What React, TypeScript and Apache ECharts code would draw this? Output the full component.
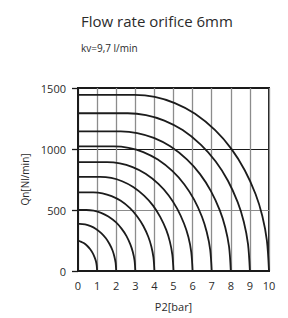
import React, { useEffect, useRef } from "react";
import * as echarts from "echarts";

const titleText = "Flow rate orifice 6mm";
const subtitleText = "kv=9,7 l/min";
const xTicks = [0, 1, 2, 3, 4, 5, 6, 7, 8, 9, 10];
const yTicks = [0, 500, 1000, 1500];

// inlet pressure P1 [bar] for each curve
const p1Values = [1, 2, 3, 4, 5, 6, 7, 8, 9, 10];

// [P2 bar, Qn Nl/min] points
const curveP1_1 = [[0, 250], [0.1, 244], [0.3, 229], [0.49, 205], [0.64, 178], [0.77, 147], [0.87, 112], [0.94, 80], [0.98, 44], [1, 0]];
const curveP1_2 = [[0, 386], [0.08, 386], [0.37, 382], [0.66, 368], [0.94, 345], [1.23, 309], [1.46, 268], [1.65, 221], [1.81, 168], [1.9, 121], [1.97, 67], [2, 0]];
const curveP1_3 = [[0, 500], [0.44, 500], [0.82, 494], [1.21, 477], [1.59, 447], [1.98, 400], [2.28, 347], [2.54, 286], [2.74, 218], [2.87, 156], [2.96, 86], [3, 0]];
const curveP1_4 = [[0, 644], [0.8, 644], [1.28, 637], [1.76, 614], [2.24, 575], [2.72, 515], [3.1, 447], [3.42, 369], [3.68, 281], [3.84, 201], [3.95, 111], [4, 0]];
const curveP1_5 = [[0, 772], [1.16, 772], [1.74, 763], [2.31, 736], [2.89, 689], [3.46, 618], [3.93, 536], [4.31, 442], [4.62, 337], [4.81, 241], [4.94, 133], [5, 0]];
const curveP1_6 = [[0, 892], [1.52, 892], [2.19, 882], [2.86, 851], [3.54, 797], [4.21, 714], [4.75, 619], [5.19, 511], [5.55, 389], [5.78, 278], [5.93, 154], [6, 0]];
const curveP1_7 = [[0, 1022], [1.88, 1022], [2.65, 1010], [3.42, 975], [4.18, 913], [4.95, 818], [5.57, 709], [6.08, 585], [6.49, 445], [6.74, 319], [6.92, 176], [7, 0]];
const curveP1_8 = [[0, 1144], [2.24, 1144], [3.1, 1131], [3.97, 1091], [4.83, 1022], [5.7, 915], [6.39, 794], [6.96, 655], [7.42, 499], [7.71, 357], [7.91, 197], [8, 0]];
const curveP1_9 = [[0, 1293], [2.6, 1293], [3.56, 1278], [4.52, 1233], [5.48, 1155], [6.44, 1034], [7.21, 897], [7.85, 740], [8.36, 564], [8.68, 404], [8.9, 223], [9, 0]];
const curveP1_10 = [[0, 1443], [2.96, 1443], [4.02, 1427], [5.07, 1376], [6.13, 1289], [7.18, 1154], [8.03, 1001], [8.73, 826], [9.3, 629], [9.65, 451], [9.89, 249], [10, 0]];

const curves = [curveP1_1, curveP1_2, curveP1_3, curveP1_4, curveP1_5, curveP1_6, curveP1_7, curveP1_8, curveP1_9, curveP1_10];

const FONT = "Open Sans";

export default function App() {
  const ref = useRef<HTMLDivElement>(null);
  useEffect(() => {
    if (!ref.current) return;
    const chart = echarts.init(ref.current, undefined, { renderer: "svg" });
    chart.setOption({
      animation: false,
      backgroundColor: "#ffffff",
      title: [
        { text: titleText, left: 76, top: 8, textStyle: { fontFamily: FONT, fontSize: 15, fontWeight: "normal", color: "#2b2b2b" } },
        { text: subtitleText, left: 76, top: 38, textStyle: { fontFamily: FONT, fontSize: 10, fontWeight: "normal", color: "#2b2b2b" } },
      ],
      grid: { left: 78, right: 19, top: 88, bottom: 47, show: true, borderColor: "#1a1a1a", borderWidth: 2, backgroundColor: "transparent" },
      xAxis: {
        type: "value",
        min: xTicks[0],
        max: xTicks[xTicks.length - 1],
        interval: 1,
        name: "P2[bar]",
        nameLocation: "middle",
        nameGap: 30,
        nameTextStyle: { fontFamily: FONT, fontSize: 11, color: "#2b2b2b" },
        axisLine: { show: true, lineStyle: { color: "#1a1a1a", width: 2 } },
        axisTick: { show: false },
        axisLabel: { fontFamily: FONT, fontSize: 11, color: "#2b2b2b", margin: 9 },
        splitLine: { show: true, lineStyle: { color: "#8c8c8c", width: 1.3 } },
      },
      yAxis: {
        type: "value",
        min: yTicks[0],
        max: yTicks[yTicks.length - 1],
        interval: 500,
        name: "Qn[Nl/min]",
        nameLocation: "middle",
        nameGap: 32,
        nameRotate: 90,
        nameTextStyle: { fontFamily: FONT, fontSize: 10, color: "#2b2b2b" },
        axisLine: { show: true, lineStyle: { color: "#1a1a1a", width: 2 } },
        axisTick: { show: true, inside: false, length: 6, lineStyle: { color: "#1a1a1a", width: 1.3 } },
        axisLabel: { fontFamily: FONT, fontSize: 11, color: "#2b2b2b", margin: 12, formatter: (v: number) => String(v) },
        splitLine: { show: true, lineStyle: { color: ["#8c8c8c", "#8c8c8c", "#1a1a1a", "#1a1a1a"], width: 1.2 } },
      },
      series: curves.map((c, i) => ({
        name: "P1=" + p1Values[i] + " bar",
        type: "line",
        data: c,
        showSymbol: false,
        smooth: 0.3,
        lineStyle: { color: "#1c1c1c", width: 1.8 },
      })),
    });
    return () => chart.dispose();
  }, []);
  return <div ref={ref} style={{ position: "absolute", left: 0, top: 0, width: 288, height: 318 }} />;
}
